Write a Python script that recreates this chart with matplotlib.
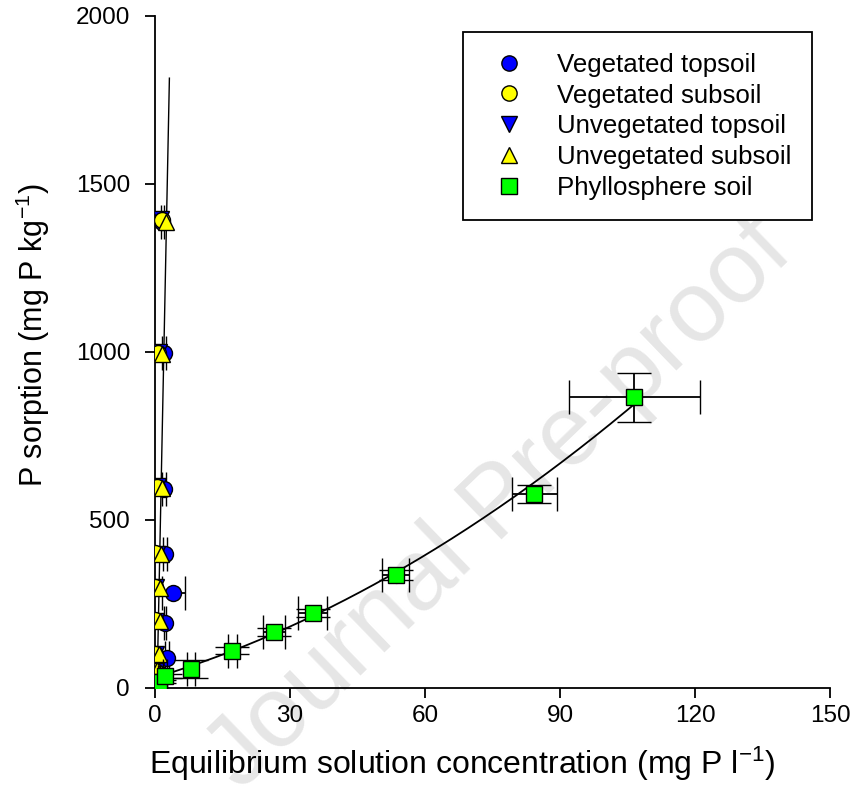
import numpy as np
import matplotlib
matplotlib.use("Agg")
import matplotlib.pyplot as plt

plt.rcParams['font.family'] = ['Liberation Sans', 'DejaVu Sans']
plt.rcParams['mathtext.default'] = 'regular'

# ---- data: equilibrium concentration (mg P/l) vs P sorbed (mg P/kg) ----
veg_top_x = [0.3, 0.9, 2.6, 2.2, 4.1, 2.2, 2.0, 2.0, 1.6]
veg_top_y = [22, 46, 88, 192, 282, 398, 592, 997, 1388]
veg_top_xerr = [0.1, 0.2, 0.4, 0.3, 2.6, 0.4, 0.4, 0.5, 0.3]

veg_sub_x = [0.1, 0.1, 0.1, 0.1, 0.1, 0.1, 0.4, 0.7, 1.5]
veg_sub_y = [25, 52, 102, 202, 301, 402, 598, 998, 1392]

unveg_top_x = [0.2, 0.2, 0.3, 0.3, 0.3, 0.4, 0.6, 0.9, 1.3]
unveg_top_y = [24, 50, 100, 200, 300, 400, 600, 1000, 1396]

unveg_sub_x = [0.3, 0.5, 0.8, 1.0, 1.0, 1.3, 1.6, 1.6, 2.4]
unveg_sub_y = [28, 55, 100, 200, 298, 398, 594, 995, 1388]

phyl_x = [0.9, 2.2, 8.0, 17.2, 26.5, 35.0, 53.5, 84.3, 106.5]
phyl_y = [19, 36, 56, 111, 167, 222, 336, 577, 865]
phyl_xerr = [0.3, 0.5, 0.8, 1.0, 2.4, 3.2, 3.0, 5.0, 14.6]
phyl_yerr = [4, 6, 27, 10, 12, 12, 15, 26, 73]

# fitted isotherms
soil_fit_slope, soil_fit_x0 = 660.0, 0.45          # linear fit for the soils
soil_fit_xrange = (0.5, 3.2)
phyl_fit_coef = (31.0, 4.05, 0.0337)                # quadratic fit, phyllosphere soil
phyl_fit_xrange = (1.0, 106.5)

x_ticks = [0, 30, 60, 90, 120, 150]
y_ticks = [0, 500, 1000, 1500, 2000]

W, H = 852, 809
fig = plt.figure(figsize=(W / 100, H / 100), dpi=100)
ax = fig.add_axes([155 / W, 1 - 688 / H, 675 / W, 672 / H])

# watermark text
ax.text(500 / W, 1 - 505 / H, 'Journal Pre-proof', transform=fig.transFigure,
        rotation=44, rotation_mode='anchor', ha='center', va='center',
        fontsize=72, color='#e6e6e6', zorder=0)

# fitted curves
xs = np.linspace(*soil_fit_xrange, 50)
ax.plot(xs, soil_fit_slope * (xs - soil_fit_x0), color='black', lw=1.0, zorder=2)
xp = np.linspace(*phyl_fit_xrange, 300)
c0, c1, c2 = phyl_fit_coef
ax.plot(xp, c0 + c1 * xp + c2 * xp ** 2, color='black', lw=1.3, zorder=2)

ms = 11.5
mk = dict(ls='none', mec='black', mew=1.0, ms=ms)
eb_style = dict(ecolor='black', elinewidth=1.3, capsize=12, capthick=1.3)

# soils (blue series underneath the yellow ones)
ax.errorbar(veg_top_x, veg_top_y, xerr=veg_top_xerr, fmt='o', mfc='#0000ff',
            zorder=3, **mk, **eb_style)
ax.plot(unveg_top_x, unveg_top_y, marker='v', mfc='#0000ff', zorder=4, **mk)
ax.plot(veg_sub_x, veg_sub_y, marker='o', mfc='#ffff00', zorder=5, **mk)
ax.plot(unveg_sub_x, unveg_sub_y, marker='^', mfc='#ffff00', zorder=6, **mk)
# phyllosphere soil
ax.errorbar(phyl_x, phyl_y, xerr=phyl_xerr, yerr=phyl_yerr, fmt='s', mfc='#00ff00',
            zorder=7, **mk, **eb_style)

series = [('o', '#0000ff', 'Vegetated topsoil'),
          ('o', '#ffff00', 'Vegetated subsoil'),
          ('v', '#0000ff', 'Unvegetated topsoil'),
          ('^', '#ffff00', 'Unvegetated subsoil'),
          ('s', '#00ff00', 'Phyllosphere soil')]

ax.set_xlim(0, 150)
ax.set_ylim(0, 2000)
ax.set_xticks(x_ticks)
ax.set_yticks(y_ticks)
for s in ('top', 'right'):
    ax.spines[s].set_visible(False)
for s in ('left', 'bottom'):
    ax.spines[s].set_linewidth(1.3)
ax.tick_params(direction='out', length=7, width=1.3, labelsize=17.5)
ax.tick_params(axis='x', pad=5)
ax.tick_params(axis='y', pad=11)

ax.set_xlabel('Equilibrium solution concentration (mg P l$^{-1}$)', fontsize=23)
ax.set_ylabel('P sorption (mg P kg$^{-1}$)', fontsize=22)
ax.xaxis.set_label_coords(0.455, -0.085)
ax.yaxis.set_label_coords(-0.152, 0.525)

leg_handles = [plt.Line2D([], [], ls='none', marker=m, mfc=c, mec='black', mew=1.0, ms=11)
               for (m, c, _) in series]
leg = ax.legend(leg_handles, [s[2] for s in series], loc='upper left',
                bbox_to_anchor=(0.456, 0.976), borderaxespad=0, fontsize=18.6,
                frameon=True, fancybox=False, edgecolor='black', framealpha=1,
                labelspacing=0.26, handlelength=2.0, handletextpad=0.84,
                borderpad=0.8)
leg.get_frame().set_linewidth(1.3)
leg.set_zorder(20)

fig.savefig('out.png', dpi=100)
